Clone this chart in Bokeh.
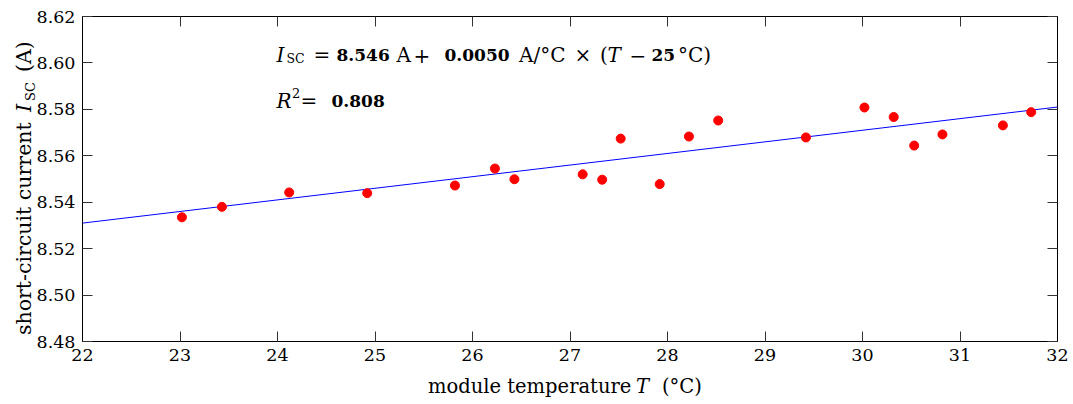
import math
from bokeh.plotting import figure
from bokeh.models import (Label, LinearAxis, FixedTicker, NumeralTickFormatter,
                          CustomJSTickFormatter, Div)
from bokeh.layouts import row, column
from bokeh.embed import file_html
from bokeh.resources import INLINE

# ---- data ----
temperature = [23.02, 23.43, 24.12, 24.92, 25.82, 26.23, 26.43, 27.13, 27.33, 27.52,
               27.92, 28.22, 28.52, 29.42, 30.02, 30.32, 30.53, 30.82, 31.44, 31.73]
isc = [8.5335, 8.5380, 8.5442, 8.5439, 8.5472, 8.5545, 8.5499, 8.5520, 8.5497, 8.5674,
       8.5478, 8.5683, 8.5752, 8.5679, 8.5808, 8.5767, 8.5644, 8.5692, 8.5731, 8.5788]
fit_intercept = 8.546   # A at 25 °C
fit_slope = 0.0050      # A/°C
fit_T0 = 25.0
x_ticks = [22, 23, 24, 25, 26, 27, 28, 29, 30, 31, 32]
y_ticks = [8.48, 8.50, 8.52, 8.54, 8.56, 8.58, 8.60, 8.62]
fit_T = [22, 32]
fit_I = [fit_intercept + fit_slope * (t - fit_T0) for t in fit_T]

FONT = "DejaVu Serif"
TICK_FS = "17.5px"

# overall geometry (window pixels)
W, H = 1073, 404
L, R, T, B = 82, 1057, 16, 341      # plot frame edges
YW = 32                             # width of the y-label strip
PW = W - YW                         # figure width
PH = 374                            # figure height
XH = H - PH                         # height of the x-label strip

p = figure(width=PW, height=PH, x_range=(22, 32), y_range=(8.48, 8.62),
           output_backend="svg", toolbar_location=None,
           min_border_left=L - YW, min_border_right=W - R,
           min_border_top=T, min_border_bottom=PH - B,
           x_axis_location=None, y_axis_location=None, margin=0)
p.xgrid.visible = False
p.ygrid.visible = False
p.outline_line_color = "black"
p.outline_line_width = 1
p.background_fill_color = "white"
p.border_fill_color = None


def make_axis(ticks, labels, fmt=None):
    ax = LinearAxis(ticker=FixedTicker(ticks=ticks))
    ax.major_tick_in = 10
    ax.major_tick_out = 0
    ax.minor_tick_in = 0
    ax.minor_tick_out = 0
    ax.major_tick_line_color = "#333333"
    ax.major_tick_line_width = 1
    ax.axis_line_color = "black"
    ax.axis_line_width = 1
    if labels:
        ax.major_label_text_font = FONT
        ax.major_label_text_font_size = TICK_FS
        ax.major_label_text_color = "black"
        ax.major_label_standoff = 7
        if fmt is not None:
            ax.formatter = fmt
    else:
        ax.formatter = CustomJSTickFormatter(code="return ''")
        ax.major_label_text_font_size = "1px"
        ax.major_label_standoff = 0
    return ax


p.add_layout(make_axis(x_ticks, True), "below")
p.add_layout(make_axis(y_ticks, True, NumeralTickFormatter(format="0.00")), "left")
p.add_layout(make_axis(x_ticks, False), "above")
p.add_layout(make_axis(y_ticks, False), "right")

# fit line and data
p.line(fit_T, fit_I, line_color="blue", line_width=1)
p.scatter(temperature, isc, size=9, fill_color="red", line_color="red")


# ---- equation inside the frame (canvas pixel positions -> frame screen units) ----
def lab(text, cx, cy, style="normal", size="20px"):
    p.add_layout(Label(x=cx - L, y=B - cy, x_units="screen", y_units="screen",
                       text=text, text_font=FONT, text_font_size=size,
                       text_font_style=style, text_color="black",
                       text_align="left", text_baseline="alphabetic"))


BOLD = "17px"
y1 = 54.5
lab("I", 276, y1, "italic")
lab("SC", 286, y1 + 3.5, size="12.5px")
lab("=", 313, y1)
lab("8.546", 336, y1, "bold", BOLD)
lab("A", 396, y1)
lab("+", 413, y1)
lab("0.0050", 444, y1, "bold", BOLD)
lab("A/°C", 518.5, y1)
lab("×", 574, y1)
lab("(", 599.5, y1)
lab("T", 607, y1, "italic")
lab("−", 629, y1)
lab("25", 651, y1, "bold", BOLD)
lab("°C)", 677.5, y1)

y2 = 100
lab("R", 276, y2, "italic")
lab("2", 291.5, y2 - 8, size="13px")
lab("=", 300, y2)
lab("0.808", 331, y2, "bold", BOLD)


# ---- axis titles as HTML strips beside the figure ----
def span(text, left, top, size, style="normal", rotate=False):
    tr = "transform:rotate(-90deg);transform-origin:0 0;" if rotate else ""
    return (f'<span style="position:absolute;left:{left:.1f}px;top:{top:.1f}px;'
            f"font-family:'{FONT}';font-size:{size}px;line-height:{size}px;"
            f'font-style:{style};font-weight:normal;color:black;white-space:nowrap;'
            f'margin:0;padding:0;{tr}">{text}</span>')


def base_off(size):
    # DejaVu Serif: ascent 0.928, descent 0.236; line-height = font size
    return size * (0.928 - (1.164 - 1.0) / 2)


XS = 19.5
xb_local = 393 - PH
xt = xb_local - base_off(XS)
x_html = (f'<div style="position:relative;width:{PW}px;height:{XH}px;">'
          + span("module temperature", 428 - YW, xt, XS)
          + span("T", 636 - YW, xt, XS, style="italic")
          + span("(°C)", 662 - YW, xt, XS)
          + "</div>")

YS = 20.5
SUB = 13
ybase = 31
yl = ybase - base_off(YS)
ysub = ybase + 3.5 - base_off(SUB)
y_html = (f'<div style="position:relative;width:{YW}px;height:{H}px;">'
          + span("short-circuit current", yl, 335, YS, rotate=True)
          + span("I", yl, 112, YS, style="italic", rotate=True)
          + span("SC", ysub, 101, SUB, rotate=True)
          + span("(A)", yl, 72, YS, rotate=True)
          + "</div>")

xdiv = Div(text=x_html, width=PW, height=XH, margin=0, styles={"overflow": "visible"})
ydiv = Div(text=y_html, width=YW, height=H, margin=0,
           styles={"overflow": "visible", "z-index": "2"})

layout = row(ydiv, column(p, xdiv, spacing=0, margin=0), spacing=0, margin=0)

open("out.html", "w").write(file_html(layout, INLINE))
